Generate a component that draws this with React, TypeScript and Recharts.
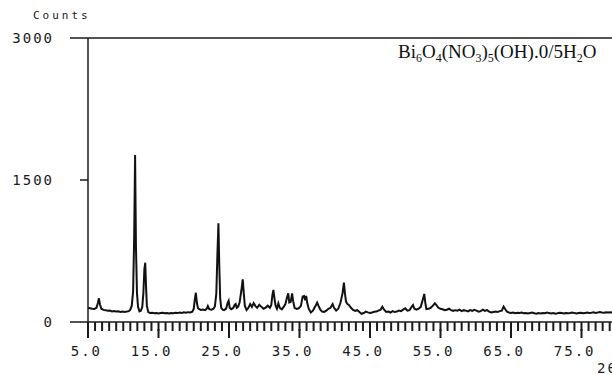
import React from "react";
import { LineChart, Line, XAxis, YAxis, ReferenceLine } from "recharts";

// 2-theta (deg) / counts pairs
const SEG_LOW: [number, number][] = [
  [5.0, 150], [5.3, 146], [5.6, 140], [5.9, 138], [6.2, 150], [6.4, 200], [6.55, 250], [6.7, 185],
  [6.9, 140], [7.2, 128], [7.5, 125], [7.8, 118], [8.1, 121], [8.4, 112], [8.7, 116], [9.0, 110],
  [9.3, 113], [9.6, 107], [9.9, 111], [10.2, 106], [10.5, 110], [10.8, 115], [11.0, 130], [11.2, 170],
  [11.4, 320], [11.55, 900], [11.68, 1764], [11.8, 800], [11.95, 300], [12.1, 160], [12.3, 112],
  [12.5, 118], [12.7, 160], [12.85, 300], [13.0, 560], [13.12, 626], [13.22, 400], [13.35, 170],
  [13.55, 105], [13.8, 95], [14.1, 98], [14.4, 92], [14.7, 96], [15.0, 90], [15.3, 94], [15.6, 98],
  [15.9, 92], [16.2, 95], [16.5, 90], [16.8, 96], [17.1, 93], [17.4, 98], [17.7, 94], [18.0, 100],
  [18.3, 96], [18.6, 102], [18.9, 98], [19.2, 104], [19.5, 100], [19.8, 108],
];
const SEG_MID: [number, number][] = [
  [20.0, 140], [20.15, 240], [20.3, 309], [20.45, 200], [20.6, 145], [20.8, 135], [21.0, 128],
  [21.3, 132], [21.6, 125], [21.85, 142], [22.0, 169], [22.2, 135], [22.5, 130], [22.8, 140],
  [23.0, 165], [23.2, 300], [23.35, 700], [23.5, 1042], [23.62, 600], [23.75, 250], [23.9, 150],
  [24.1, 130], [24.3, 125], [24.6, 142], [24.8, 200], [24.95, 225], [25.1, 150], [25.3, 135],
  [25.6, 148], [25.8, 180], [25.95, 190], [26.1, 150], [26.3, 162], [26.5, 205], [26.75, 330],
  [26.95, 451], [27.1, 300], [27.25, 170], [27.5, 127], [27.75, 150], [28.0, 190], [28.25, 160],
  [28.5, 200], [28.75, 168], [29.0, 150], [29.3, 182], [29.6, 160], [29.9, 140], [30.2, 152],
  [30.5, 172], [30.8, 150], [31.0, 180], [31.15, 280], [31.3, 340], [31.45, 250], [31.6, 175],
  [31.8, 140], [32.0, 197], [32.2, 150], [32.5, 134], [32.8, 165], [33.0, 190], [33.2, 250],
  [33.4, 303], [33.55, 205], [33.75, 212], [33.95, 303], [34.1, 220], [34.3, 150], [34.6, 138],
  [34.9, 145], [35.2, 170], [35.45, 270], [35.65, 275], [35.8, 230], [35.95, 275], [36.1, 200],
  [36.3, 140], [36.6, 100], [36.9, 120], [37.2, 160], [37.5, 204], [37.7, 170], [37.95, 130],
  [38.2, 110], [38.5, 106], [38.8, 120], [39.1, 140], [39.4, 150], [39.7, 190], [39.9, 150],
  [40.2, 120], [40.5, 140], [40.8, 200], [41.1, 300], [41.3, 415], [41.45, 300], [41.6, 214],
  [41.8, 190], [42.0, 180],
];
const SEG_HIGH: [number, number][] = [
  [42.3, 150], [42.6, 127], [42.9, 118], [43.2, 125], [43.5, 105], [43.8, 86], [44.1, 95],
  [44.4, 110], [44.7, 102], [45.0, 95], [45.3, 100], [45.6, 108], [45.9, 110], [46.2, 120],
  [46.5, 130], [46.75, 162], [47.0, 130], [47.3, 106], [47.6, 110], [47.9, 100], [48.2, 115],
  [48.5, 105], [48.8, 110], [49.1, 120], [49.4, 115], [49.7, 130], [50.0, 145], [50.3, 120],
  [50.6, 125], [50.9, 160], [51.1, 180], [51.3, 140], [51.6, 130], [51.9, 140], [52.2, 160],
  [52.5, 240], [52.7, 296], [52.85, 200], [53.0, 137], [53.3, 140], [53.6, 150], [53.9, 170],
  [54.2, 197], [54.4, 180], [54.7, 150], [55.0, 140], [55.3, 135], [55.6, 125], [55.9, 130],
  [56.2, 140], [56.5, 125], [56.8, 118], [57.1, 125], [57.4, 120], [57.7, 130], [58.0, 115],
  [58.3, 125], [58.6, 120], [58.9, 112], [59.2, 125], [59.5, 118], [59.8, 128], [60.1, 120],
  [60.4, 110], [60.7, 115], [61.0, 130], [61.3, 118], [61.6, 125], [61.9, 110], [62.2, 100],
  [62.5, 105], [62.8, 110], [63.1, 105], [63.4, 115], [63.7, 120], [63.95, 162], [64.15, 140],
  [64.4, 110], [64.7, 100], [65.0, 95], [65.3, 100], [65.6, 92], [65.9, 98], [66.2, 95],
  [66.5, 100], [66.8, 92], [67.1, 96], [67.4, 90], [67.7, 95], [68.0, 100], [68.3, 92], [68.6, 88],
  [68.9, 95], [69.2, 90], [69.5, 96], [69.8, 92], [70.1, 100], [70.4, 94], [70.7, 90], [71.0, 95],
  [71.3, 88], [71.6, 92], [71.9, 98], [72.2, 94], [72.5, 90], [72.8, 96], [73.1, 92], [73.4, 95],
  [73.7, 100], [74.0, 94], [74.3, 90], [74.6, 95], [74.9, 98], [75.2, 92], [75.5, 96], [75.8, 100],
  [76.1, 95], [76.4, 98], [76.7, 102], [77.0, 96], [77.3, 100], [77.6, 105], [77.9, 100],
  [78.2, 98], [78.5, 103], [78.8, 100], [79.1, 104], [79.4, 100], [79.7, 102], [80.0, 98],
];

const X_TICKS: number[] = Array.from({ length: 76 }, (_, i) => 5 + i); // 5..80, every degree
const X_MAJOR_LABELS = ["5.0", "15.0", "25.0", "35.0", "45.0", "55.0", "65.0", "75.0"];
const Y_TICKS = [0, 1500, 3000];
const Y_LABELS = ["0", "1500", "3000"];
const Y_TITLE = "Counts";
const X_TITLE = "2θ";

const data = [...SEG_LOW, ...SEG_MID, ...SEG_HIGH].map(([t, c]) => ({ t, c }));

const INK = "#1a1a1a";
const MONO = "'DejaVu Sans Mono', 'Liberation Mono', monospace";
const SERIF = "'Liberation Serif', 'Times New Roman', serif";
const PLOT_LEFT = 88;
const PLOT_TOP = 38;
const PLOT_BOTTOM = 322;
const CHART_W = 680;
const CHART_H = 374;
const MINOR_TICK = 9;

const XTick = (props: any) => {
  const { x, y, payload } = props;
  const v = Number(payload.value);
  const major = Math.round(v - 5) % 10 === 0;
  const idx = Math.round((v - 5) / 10);
  if (!major) return <g />;
  return (
    <g>
      <rect x={x - 1} y={y - 2} width={2} height={9} fill={INK} />
      {X_MAJOR_LABELS[idx] && (
        <text x={x + 14} y={y + 25} textAnchor="end" fontFamily={MONO} fontSize={14} letterSpacing={2} fill={INK}>
          {X_MAJOR_LABELS[idx]}
        </text>
      )}
    </g>
  );
};

const YTick = (props: any) => {
  const { y, payload } = props;
  const v = Number(payload.value);
  const i = Y_TICKS.indexOf(v);
  const mid = v === 1500;
  return (
    <g>
      <rect x={mid ? PLOT_LEFT - 8 : PLOT_LEFT - 18} y={y - 0.75} width={mid ? 8 : 18} height={1.5} fill={INK} />
      <text x={54} y={y + 5} textAnchor="end" fontFamily={MONO} fontSize={14} letterSpacing={2} fill={INK}>
        {Y_LABELS[i]}
      </text>
    </g>
  );
};

const CountsLabel = () => (
  <text x={33} y={19} fontFamily={MONO} fontSize={11} letterSpacing={3} fill={INK}>
    {Y_TITLE}
  </text>
);

const ThetaLabel = () => (
  <text x={597} y={373} fontFamily={MONO} fontSize={14} letterSpacing={2} fill={INK}>
    {X_TITLE}
  </text>
);

const TitleLabel = () => (
  <text x={398} y={58} fontFamily={SERIF} fontSize={19} fill="#111">
    Bi<tspan fontSize={12} dy={4}>6</tspan>
    <tspan dy={-4}>O</tspan>
    <tspan fontSize={12} dy={4}>4</tspan>
    <tspan dy={-4}>(NO</tspan>
    <tspan fontSize={12} dy={4}>3</tspan>
    <tspan dy={-4}>)</tspan>
    <tspan fontSize={12} dy={4}>5</tspan>
    <tspan dy={-4}>(OH).0/5H</tspan>
    <tspan fontSize={12} dy={4}>2</tspan>
    <tspan dy={-4}>O</tspan>
  </text>
);

export default function App() {
  return (
    <div
      style={{
        position: "absolute",
        left: 0,
        top: 0,
        width: 612,
        height: 374,
        overflow: "hidden",
        background: "#fff",
      }}
    >
      <LineChart
        width={CHART_W}
        height={CHART_H}
        data={data}
        margin={{ top: PLOT_TOP, right: CHART_W - 652, bottom: 0, left: 0 }}
      >
        <XAxis
          dataKey="t"
          type="number"
          domain={[5, 85]}
          ticks={X_TICKS}
          interval={0}
          height={CHART_H - PLOT_BOTTOM}
          tick={<XTick />}
          tickLine={{ stroke: INK, strokeWidth: 2 }}
          tickSize={MINOR_TICK}
          tickMargin={0}
          axisLine={{ stroke: INK, strokeWidth: 1.5 }}
          label={<ThetaLabel />}
          allowDataOverflow
        />
        <YAxis
          type="number"
          domain={[0, 3000]}
          ticks={Y_TICKS}
          interval={0}
          width={PLOT_LEFT}
          tick={<YTick />}
          tickLine={false}
          axisLine={{ stroke: INK, strokeWidth: 1.5 }}
          label={<CountsLabel />}
        />
        <ReferenceLine y={3000} stroke={INK} strokeWidth={1.5} label={<TitleLabel />} />
        <Line type="linear" dataKey="c" stroke="#111" strokeWidth={2} dot={false} isAnimationActive={false} />
      </LineChart>
    </div>
  );
}
